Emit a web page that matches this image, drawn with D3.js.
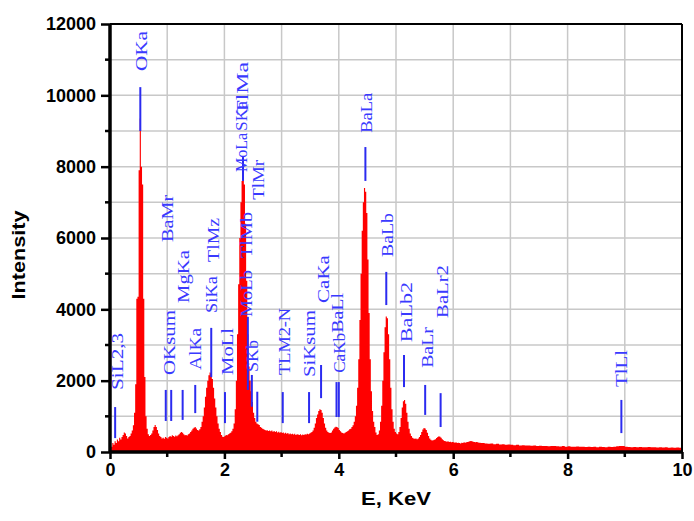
<!DOCTYPE html>
<html><head><meta charset="utf-8">
<script src="https://cdn.jsdelivr.net/npm/d3@7"></script>
<style>html,body{margin:0;padding:0;background:#fff;}svg{display:block;}</style>
</head><body>
<svg id="chart" width="694" height="521"></svg>
<script>
// ---------- DATA ----------
// spectrum counts, fine channel grid (0.00 .. 6.48 keV, 0.02 keV per channel)
const countsFine = [
0,150,250,200,300,250,350,300,400,350,
420,480,550,520,450,380,420,450,520,600,
750,1100,1900,4300,4350,7900,9350,8000,7500,4300,
2100,1000,650,500,450,480,520,600,700,760,
700,620,520,450,420,380,400,370,420,400,
380,420,450,430,470,450,430,460,440,470,
500,540,560,540,500,470,480,460,500,520,
560,600,650,680,700,660,620,600,640,700,
850,1000,1250,1550,1800,2000,2150,2230,2200,2050,
1800,1500,1250,1000,800,650,560,480,430,420,
450,480,470,500,520,540,580,650,800,1200,
2000,3300,4700,6000,7000,7600,7800,7500,6400,4800,
3300,2400,2000,1700,1400,1100,950,850,800,780,
760,700,680,650,640,620,600,610,590,600,
580,600,570,590,560,580,550,570,540,560,
530,550,520,540,510,530,500,520,500,510,
490,510,480,500,490,480,500,470,490,480,
500,490,510,500,520,540,560,600,680,800,
950,1050,1150,1200,1180,1100,950,800,680,600,
560,540,530,550,600,650,690,710,700,670,
620,580,550,530,520,540,560,580,600,640,
650,700,750,850,1000,1300,1800,2600,3700,5000,
6200,7000,7400,7300,6700,5400,3900,2600,1700,1150,
850,700,550,480,500,600,850,1300,2000,2800,
3500,3800,3750,3300,2600,1800,1200,850,650,560,
520,500,560,700,950,1250,1420,1460,1350,1100,
850,650,520,450,400,380,370,380,360,380,
420,480,560,630,670,660,620,540,450,380,
340,320,330,340,360,390,420,440,430,400,
360,330,310,300,290,300,280,290,270,280,
270,260,270,250,260,250,240,260,250,270,
260,270,280,290,300,310,300,290,280,270,
280,270,260,260,250
];
// spectrum counts, coarse channel grid (6.50 .. 10.00 keV, 0.05 keV per channel)
const countsCoarse = [
250,240,230,240,220,230,210,220,200,210,
200,190,200,180,190,180,185,175,180,170,
175,165,170,160,170,165,160,155,165,150,
160,150,145,155,145,150,140,150,140,145,
135,145,140,135,145,140,150,160,170,165,
150,140,135,140,130,140,135,130,140,130,
135,125,130,125,130,120,125,120,125,120,
120
];

// element marker lines: energy (keV), top & bottom intensity
const markerEnergy = [0.09,0.53,0.975,1.07,1.27,1.49,1.77,2.01,2.325,2.41,2.48,2.575,3.02,3.48,3.69,3.96,4.00,4.465,4.83,5.14,5.51,5.78,8.94];
const markerTop    = [1260,10230,1740,1740,1740,1880,3480,1680,8270,3790,2160,1690,1680,1680,2440,1960,1960,8550,5050,2720,1880,1650,1460];
const markerBottom = [390,9000,870,870,900,1090,2100,810,7600,1740,1270,850,810,810,1510,980,980,7600,4120,1820,1040,700,530];

// element labels: text, energy of label, intensity at start and end of the (vertical) text
const labelText  = ["SiL2,3","OKa","BaMr","OKsum","MgKa","AlKa","SiKa","TlMz","MoLl","MoLa","SKa","TlMa","TlMb","MoLb","TlMr","SKb","TLM2-N","SiKsum","CaKa","BaLl","CaKb","BaLa","BaLb","BaLb2","BaLr","BaLr2","TlLl"];
const labelE     = [0.13,0.54,1.00,1.03,1.28,1.49,1.77,1.80,2.045,2.29,2.29,2.31,2.38,2.38,2.59,2.48,3.04,3.48,3.72,3.97,4.00,4.475,4.84,5.17,5.54,5.80,8.93];
const labelFrom  = [1740,10680,5890,2160,4180,2300,3900,5330,2160,7850,9000,9450,5440,3790,7070,2240,2160,2100,4180,3340,2220,8950,5470,3080,2360,3760,1820];
const labelTo    = [3340,11800,7210,3980,5660,3480,4930,6560,3480,8950,9840,10940,6730,5100,8190,3140,4040,3980,5520,4460,3340,10070,6700,4770,3500,5240,2860];

// axes
const xTicks = [0,2,4,6,8,10];
const xMinor = [1,3,5,7,9];
const yTicks = [0,2000,4000,6000,8000,10000,12000];
const yMinor = [1000,3000,5000,7000,9000,11000];
const xTitle = "E, KeV";
const yTitle = "Intensity";

// ---------- BUILD ----------
const spectrum = [];
countsFine.forEach((v,i)=>spectrum.push({e: +(i*0.02).toFixed(2), v}));
countsCoarse.forEach((v,i)=>spectrum.push({e: +(6.5+i*0.05).toFixed(2), v}));

const svg = d3.select("#chart");
const L=110, R=682, T=24, B=452;
const x = d3.scaleLinear().domain([0,10]).range([L,R]);
const y = d3.scaleLinear().domain([0,12000]).range([B,T]);

// grid
const grid = svg.append("g").attr("stroke","#c8c8c8").attr("stroke-width",1.5);
d3.range(1,10).forEach(v=>grid.append("line").attr("x1",x(v)).attr("x2",x(v)).attr("y1",T).attr("y2",B));
d3.range(1000,12000,1000).forEach(v=>grid.append("line").attr("x1",L).attr("x2",R).attr("y1",y(v)).attr("y2",y(v)));

// clip
svg.append("clipPath").attr("id","plotclip").append("rect").attr("x",L).attr("y",T).attr("width",R-L).attr("height",B-T);

// spectrum
const area = d3.area().curve(d3.curveStepAfter)
  .x(d=>x(d.e)).y0(y(0)).y1(d=>y(d.v));
svg.append("path").datum(spectrum).attr("clip-path","url(#plotclip)")
  .attr("d",area).attr("fill","#ff0000").attr("stroke","none");

// marker lines
svg.append("g").selectAll("line").data(markerEnergy).join("line")
  .attr("x1",d=>x(d)).attr("x2",d=>x(d))
  .attr("y1",(d,i)=>y(markerTop[i])).attr("y2",(d,i)=>y(markerBottom[i]))
  .attr("stroke","#2b2bf0").attr("stroke-width",2);

// labels
svg.append("g").selectAll("text").data(labelText).join("text")
  .attr("transform",(d,i)=>`translate(${x(labelE[i])},${y(labelFrom[i])}) rotate(-90)`)
  .attr("dy","0.35em")
  .attr("textLength",(d,i)=>y(labelFrom[i])-y(labelTo[i]))
  .attr("lengthAdjust","spacingAndGlyphs")
  .attr("font-family","'Liberation Serif','Times New Roman',serif")
  .attr("font-size",16.5)
  .attr("fill","#3a3aff")
  .text(d=>d);

// frame
svg.append("line").attr("x1",L).attr("x2",R).attr("y1",T).attr("y2",T).attr("stroke","#000").attr("stroke-width",2);
svg.append("line").attr("x1",R).attr("x2",R).attr("y1",T).attr("y2",B).attr("stroke","#000").attr("stroke-width",2);

// axes
const font = "'Liberation Sans',Arial,sans-serif";
const xAxis = svg.append("g").attr("transform",`translate(0,${B})`)
  .call(d3.axisBottom(x).tickValues(xTicks).tickSize(7).tickPadding(4).tickFormat(d3.format("d")));
xAxis.append("g").selectAll("line").data(xMinor).join("line")
  .attr("x1",d=>x(d)).attr("x2",d=>x(d)).attr("y1",0).attr("y2",5).attr("stroke","#000").attr("stroke-width",2.5);
const yAxis = svg.append("g").attr("transform",`translate(${L},0)`)
  .call(d3.axisLeft(y).tickValues(yTicks).tickSize(9).tickPadding(5).tickFormat(d3.format("d")));
yAxis.append("g").selectAll("line").data(yMinor).join("line")
  .attr("x1",0).attr("x2",-5).attr("y1",d=>y(d)).attr("y2",d=>y(d)).attr("stroke","#000").attr("stroke-width",2.5);
[xAxis,yAxis].forEach(a=>{
  a.select(".domain").attr("stroke","#000").attr("stroke-width",3.5);
  a.selectAll(".tick line").attr("stroke","#000").attr("stroke-width",2.5);
  a.selectAll(".tick text").attr("font-family",font).attr("font-weight","bold").attr("font-size",18).attr("fill","#000");
});
xAxis.select(".domain").attr("d",`M${L},0H${R}`);
yAxis.select(".domain").attr("d",`M0,${B}V${T}`);

// titles
svg.append("text").attr("x",(L+R)/2).attr("y",505).attr("text-anchor","middle")
  .attr("font-family",font).attr("font-weight","bold").attr("font-size",19)
  .attr("textLength",70).attr("lengthAdjust","spacingAndGlyphs").text(xTitle);
svg.append("text").attr("transform",`translate(25,${(T+B)/2+17}) rotate(-90)`).attr("text-anchor","middle")
  .attr("font-family",font).attr("font-weight","bold").attr("font-size",18)
  .attr("textLength",89).attr("lengthAdjust","spacingAndGlyphs").text(yTitle);
</script>
</body></html>
